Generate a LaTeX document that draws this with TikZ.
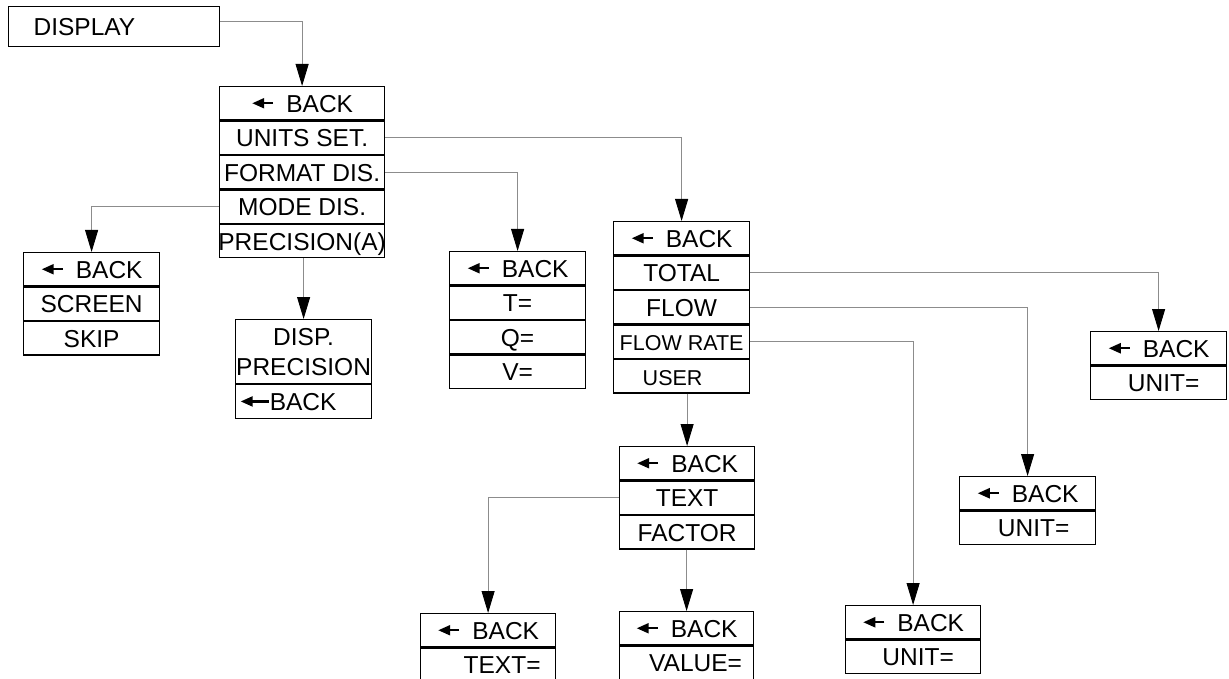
\documentclass[tikz,border=0pt]{standalone}
\usepackage{fontspec}
\setmainfont{Liberation Sans}
\usetikzlibrary{positioning,arrows.meta}
\newcommand\menufont{\fontsize{24.5pt}{30pt}\selectfont}
\newcommand\smallmenufont{\fontsize{21.5pt}{26pt}\selectfont}
\newcommand\backarr[1][21pt]{\tikz[baseline=-8.8pt]\draw[line width=2.2pt,-{Triangle[length=12pt,width=10pt]}] (#1,0) -- (0,0);}
\newcommand\backrow{\backarr\hspace{12pt}BACK}
\begin{document}
\begin{tikzpicture}[x=1pt, y=-1pt,
    box/.style={draw, line width=1.2pt, inner sep=0pt, font=\menufont},
    row/.style={box, minimum width=#1, minimum height=33.3pt, text height=17.6pt, text depth=0pt},
    row/.default=136pt,
    link/.style={draw=black!45, line width=0.9pt, -{Triangle[length=22pt,width=13pt,color=black]}}
]
\useasboundingbox (0,0) rectangle (1229,679);

\node[box, anchor=north west, minimum height=40pt, text width=161pt, inner xsep=25pt, align=left, text height=17.6pt, text depth=0pt] (disp) at (8,6) {DISPLAY};

% main menu
\node[row=165pt, anchor=north west] (mback) at (219,86) {\backrow};
\node[row=165pt, below=0pt of mback] (munits) {UNITS SET.};
\node[row=165pt, below=0pt of munits] (mformat) {FORMAT DIS.};
\node[row=165pt, below=0pt of mformat] (mmode) {MODE DIS.};
\node[row=165pt, below=0pt of mmode] (mprec) {\makebox[150pt]{PRECISION(A)}};

\node[row, anchor=north west] (sback) at (23,252) {\backrow};
\node[row, below=0pt of sback] (sscreen) {SCREEN};
\node[row, below=0pt of sscreen] (sskip) {SKIP};

\node[box, anchor=north west, minimum width=136pt, minimum height=64pt, align=center] (dptitle) at (235,319) {DISP.\\PRECISION};
\node[row, below=0pt of dptitle, text width=128pt, align=left] (dpback) {\backarr[28pt]BACK};

\node[row, anchor=north west] (tback) at (449,251) {\backrow};
\node[row, below=0pt of tback] (tt) {T=};
\node[row, below=0pt of tt] (tq) {Q=};
\node[row, below=0pt of tq] (tv) {V=};

% units menu
\node[row, anchor=north west] (uback) at (613,221) {\backrow};
\node[row, below=0pt of uback] (utotal) {TOTAL};
\node[row, below=0pt of utotal] (uflow) {FLOW};
\node[row, below=0pt of uflow, font=\smallmenufont] (urate) {FLOW RATE};
\node[row, below=0pt of urate, font=\smallmenufont] (uuser) {USER\hspace*{18pt}};

\node[row, anchor=north west] (tuback) at (1090,331) {\backrow};
\node[row, below=0pt of tuback] (tuunit) {\hspace*{10pt}UNIT=};

\node[row, anchor=north west] (fback) at (959,476) {\backrow};
\node[row, below=0pt of fback] (funit) {\hspace*{12pt}UNIT=};

\node[row=135pt, anchor=north west] (rback) at (845,605) {\backrow};
\node[row=135pt, below=0pt of rback] (runit) {\hspace*{10pt}UNIT=};

\node[row=135pt, anchor=north west] (ubback) at (619,446) {\backrow};
\node[row=135pt, below=0pt of ubback] (ubtext) {TEXT};
\node[row=135pt, below=0pt of ubtext] (ubfactor) {FACTOR};

\node[row=135pt, anchor=north west] (xback) at (420,613) {\backrow};
\node[row=135pt, below=0pt of xback] (xtext) {\hspace*{28pt}TEXT=};

\node[row=134pt, anchor=north west] (vback) at (619,611) {\backrow};
\node[row=134pt, below=0pt of vback] (vvalue) {\hspace*{18pt}VALUE=};

% connectors
\draw[link] ([yshift=5pt]disp.east) -| (mback.north);
\draw[link] (munits.east) -| (uback.north);
\draw[link] (mformat.east) -| (tback.north);
\draw[link] (mmode.west) -| (sback.north);
\draw[link] (dptitle.north |- mprec.south) -- (dptitle.north);
\draw[link] (utotal.east) -| (tuback.north);
\draw[link] (uflow.east) -| (fback.north);
\draw[link] (urate.east) -| (rback.north);
\draw[link] (ubback.north |- uuser.south) -- (ubback.north);
\draw[link] (ubtext.west) -| (xback.north);
\draw[link] (vback.north |- ubfactor.south) -- (vback.north);
\end{tikzpicture}
\end{document}
